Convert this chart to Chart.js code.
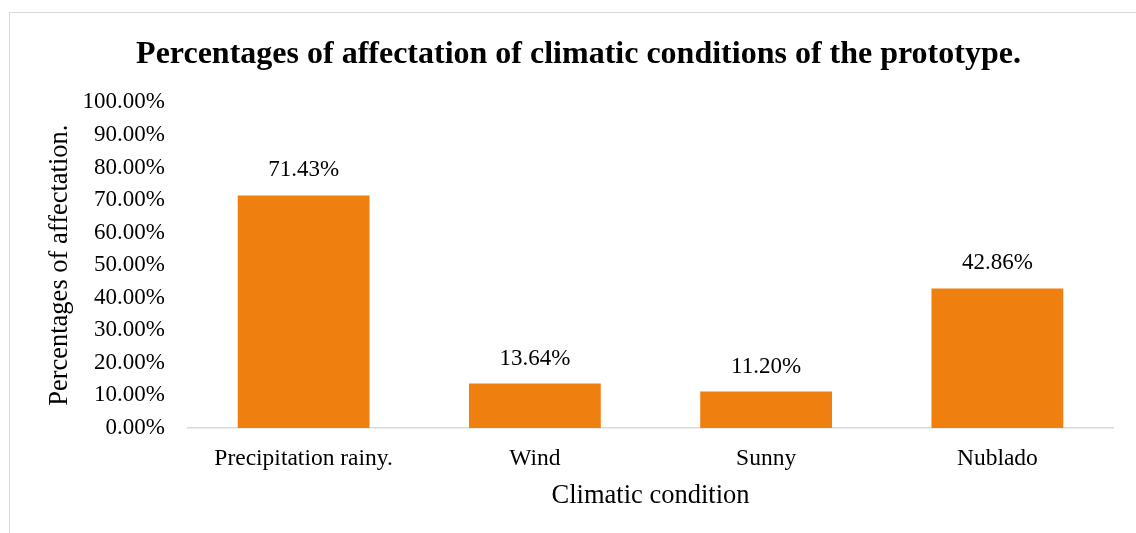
<!DOCTYPE html>
<html>
<head>
<meta charset="utf-8">
<script src="https://cdn.jsdelivr.net/npm/chart.js@4"></script>
<style>
  html, body { margin: 0; padding: 0; background: #fff; overflow: hidden; }
  #frame { position: absolute; left: 9px; top: 12px; width: 1140px; height: 540px; border: 1px solid #d9d9d9; }
  #wrap { position: absolute; left: 0; top: 0; width: 1136px; height: 533px; }
</style>
</head>
<body>
<div id="frame"></div>
<div id="wrap"><canvas id="chart"></canvas></div>
<script>
/* global Chart */

const CATEGORIES = ["Precipitation rainy.", "Wind", "Sunny", "Nublado"];
const AFFECTATION = [71.43, 13.64, 11.20, 42.86];
const Y_TICKS = [0, 10, 20, 30, 40, 50, 60, 70, 80, 90, 100];

const SERIF = "'Liberation Serif', 'Times New Roman', serif";
const BAR_COLOR = "#ef7f0e";

// writes each bar's value just above it
const valueLabels = {
    id: "valueLabels",
    afterDatasetsDraw(chart) {
        const ctx = chart.ctx;
        const meta = chart.getDatasetMeta(0);
        ctx.save();
        ctx.font = "23px " + SERIF;
        ctx.fillStyle = "#000";
        ctx.textAlign = "center";
        ctx.textBaseline = "middle";
        meta.data.forEach((bar, i) => {
            ctx.fillText(AFFECTATION[i].toFixed(2) + "%", bar.x, bar.y - 25);
        });
        ctx.restore();
    }
};

new Chart(document.getElementById("chart"), {
    type: "bar",
    data: {
        labels: CATEGORIES,
        datasets: [{
            data: AFFECTATION,
            backgroundColor: BAR_COLOR,
            categoryPercentage: 1,
            barPercentage: 0.57
        }]
    },
    options: {
        responsive: true,
        maintainAspectRatio: false,
        animation: false,
        layout: { padding: { left: 44, right: 23, top: 0, bottom: 21 } },
        plugins: {
            legend: { display: false },
            tooltip: { enabled: false },
            title: {
                display: true,
                text: "Percentages of affectation of climatic conditions of the prototype.",
                color: "#000",
                font: { family: SERIF, size: 32, weight: "bold" },
                padding: { top: 36, bottom: 28 }
            }
        },
        scales: {
            x: {
                grid: { display: false, drawTicks: false },
                border: { display: true, color: "#d9d9d9", width: 1.5 },
                ticks: { color: "#000", padding: 17, font: { family: SERIF, size: 23.5 } },
                title: {
                    display: true,
                    text: "Climatic condition",
                    color: "#000",
                    font: { family: SERIF, size: 26.5 },
                    padding: { top: 0, bottom: 0 }
                },
                afterFit(scale) { scale.height = 84; }
            },
            y: {
                min: 0,
                max: 100,
                grid: { display: false, drawTicks: false },
                border: { display: false },
                afterBuildTicks(scale) { scale.ticks = Y_TICKS.map(v => ({ value: v })); },
                ticks: {
                    color: "#000",
                    padding: 23,
                    font: { family: SERIF, size: 23 },
                    callback: v => v.toFixed(2) + "%"
                },
                title: {
                    display: true,
                    text: "Percentages of affectation.",
                    color: "#000",
                    font: { family: SERIF, size: 26.5 },
                    padding: { top: 0, bottom: 0 }
                },
                afterFit(scale) { scale.width = 188 - 44; }
            }
        }
    },
    plugins: [valueLabels]
});
</script>
</body>
</html>
